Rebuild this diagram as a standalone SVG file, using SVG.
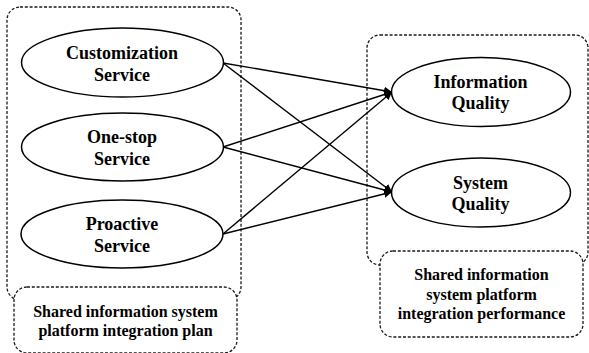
<svg xmlns="http://www.w3.org/2000/svg" width="589" height="353" viewBox="0 0 589 353">
  <style>
    .frame { fill: none; stroke: #1a1a1a; stroke-width: 1.3; stroke-dasharray: 3 1.8; }
    .tag { fill: #fff; stroke: #1a1a1a; stroke-width: 1.3; stroke-dasharray: 3 1.8; }
    .node ellipse { fill: #fff; stroke: #000; stroke-width: 1.5; }
    .big { font-size: 18px; }
    .small { font-size: 16px; }
    .link { stroke: #000; stroke-width: 1.4; fill: none; marker-end: url(#head); }
  </style>
  <defs>
    <marker id="head" markerUnits="userSpaceOnUse" markerWidth="10" markerHeight="8" refX="8" refY="4" orient="auto">
      <path d="M0,0 L8,4 L0,8 Z" fill="#000"/>
    </marker>
  </defs>
  <rect width="589" height="353" fill="#fff"/>

  <g font-family="'Liberation Serif', 'Times New Roman', 'DejaVu Serif', serif" font-weight="bold" text-anchor="middle" fill="#000">
    <!-- grouping frames -->
    <g id="plan-frame">
      <rect class="frame" x="7" y="7" width="234" height="293" rx="13" ry="13"/>
      <rect class="tag" x="14" y="287" width="223" height="66" rx="13" ry="13"/>
      <text class="small" x="125.5" y="316.5">Shared information system</text>
      <text class="small" x="125.5" y="335.5">platform integration plan</text>
    </g>
    <g id="performance-frame">
      <rect class="frame" x="367" y="35" width="221" height="230" rx="13" ry="13"/>
      <rect class="tag" x="380" y="251" width="203" height="86" rx="13" ry="13"/>
      <text class="small" x="481.5" y="280">Shared information</text>
      <text class="small" x="481.5" y="299.5">system platform</text>
      <text class="small" x="481.5" y="319">integration performance</text>
    </g>

    <!-- connectors -->
    <g id="connectors">
      <line class="link" x1="223" y1="63" x2="392" y2="92"/>
      <line class="link" x1="223" y1="63" x2="392" y2="192"/>
      <line class="link" x1="223" y1="147" x2="392" y2="92"/>
      <line class="link" x1="223" y1="147" x2="392" y2="192"/>
      <line class="link" x1="223" y1="234" x2="392" y2="92"/>
      <line class="link" x1="223" y1="234" x2="392" y2="192"/>
    </g>

    <!-- nodes -->
    <g id="customization" class="node">
      <ellipse cx="122.5" cy="62.5" rx="101" ry="34.5"/>
      <text class="big" x="122" y="59">Customization</text>
      <text class="big" x="122" y="80.7">Service</text>
    </g>
    <g id="one-stop" class="node">
      <ellipse cx="122.5" cy="147" rx="101" ry="34"/>
      <text class="big" x="122" y="143">One-stop</text>
      <text class="big" x="122" y="164.7">Service</text>
    </g>
    <g id="proactive" class="node">
      <ellipse cx="122" cy="234" rx="101" ry="34"/>
      <text class="big" x="122" y="230">Proactive</text>
      <text class="big" x="122" y="251.7">Service</text>
    </g>
    <g id="information-quality" class="node">
      <ellipse cx="481" cy="92" rx="89.5" ry="34.5"/>
      <text class="big" x="480.5" y="88.3">Information</text>
      <text class="big" x="480.5" y="109.3">Quality</text>
    </g>
    <g id="system-quality" class="node">
      <ellipse cx="481" cy="192.5" rx="89.5" ry="34.5"/>
      <text class="big" x="480.5" y="189">System</text>
      <text class="big" x="480.5" y="209.8">Quality</text>
    </g>
  </g>
</svg>
